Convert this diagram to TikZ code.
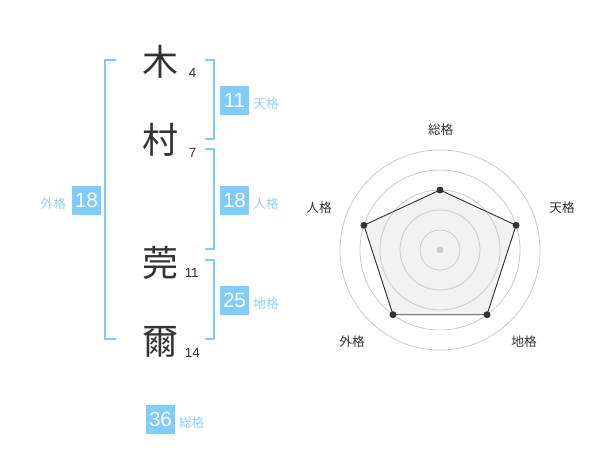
\documentclass[tikz,border=0pt]{standalone}
\usepackage{fontspec}
\setmainfont{Liberation Sans}
\newfontfamily\jp{Noto Sans CJK JP}
\usetikzlibrary{positioning, calc}
\definecolor{kakublue}{HTML}{80CCFF}
\definecolor{kakutext}{HTML}{8FD2F8}
\definecolor{gridgray}{HTML}{CCCCCC}
\definecolor{fillgray}{HTML}{F2F2F2}
\definecolor{inkgray}{HTML}{333333}
\tikzstyle{kanji}=[inner sep=0pt, text=inkgray, font=\jp\fontsize{27}{27}\selectfont]
\tikzstyle{strokes}=[inner sep=0pt, text=inkgray, font=\fontsize{10}{10}\selectfont]
\tikzstyle{score}=[fill=kakublue, text=white, minimum size=21.75pt, inner sep=0pt, font=\fontsize{15.5}{15.5}\selectfont]
\tikzstyle{kaku}=[inner sep=0pt, text=kakutext, font=\jp\fontsize{9.5}{9.5}\selectfont]
\tikzstyle{bracket}=[draw=kakublue, line width=1.5pt]
\tikzstyle{axislabel}=[inner sep=0pt, text=inkgray, font=\jp\fontsize{9.5}{9.5}\selectfont]
\tikzstyle{dot}=[fill=inkgray, shape=circle, minimum size=5.25pt, inner sep=0pt]

\begin{document}
\begin{tikzpicture}[x=0.75pt, y=-0.75pt]
	\useasboundingbox (0,0) rectangle (600,470);

	\node[kanji] (k1) at (160,61.7) {木};
	\node[kanji] (k2) at (160,140) {村};
	\node[kanji] (k3) at (160,263) {莞};
	\node[kanji] (k4) at (160,341.7) {爾};

	\node[strokes] (s1) at ($(k1)+(32.7,11.6)$) {4};
	\node[strokes] (s2) at ($(k2)+(32.7,12.7)$) {7};
	\node[strokes] (s3) at ($(k3)+(31.7,9.7)$) {11};
	\node[strokes] (s4) at ($(k4)+(32.3,11)$) {14};

	\draw[bracket] (115.7,60) -| (105.3,339.3) -- (115.7,339.3);
	\draw[bracket] (205.3,60) -| (214.3,139.3) -- (205.3,139.3);
	\draw[bracket] (205.3,149.3) -| (214.3,249.3) -- (205.3,249.3);
	\draw[bracket] (205.3,260) -| (214.3,339.3) -- (205.3,339.3);

	\node[score] (ten) at (234.5,100.5) {11};
	\node[score] (jin) at (234.5,200.5) {18};
	\node[score] (chi) at (234.5,300.5) {25};
	\node[score] (gai) at (86.5,200.5) {18};
	\node[score] (sou) at (160.5,419.5) {36};

	\node[kaku] at ($(ten)+(31.5,3.5)$) {天格};
	\node[kaku] at ($(jin)+(31.5,3.5)$) {人格};
	\node[kaku] at ($(chi)+(31.5,3.5)$) {地格};
	\node[kaku] at ($(gai)+(-33.2,2.8)$) {外格};
	\node[kaku] at ($(sou)+(31.2,3.2)$) {総格};

	% radar
	\begin{scope}[shift={(440,250)}, yscale=-1]
		\coordinate (c) at (0,0);
		\foreach \a/\r [count=\i] in {90/60, 18/80, -54/80, -126/80, 162/80}
			\coordinate (p\i) at (\a:\r);
	\end{scope}

	\fill[fillgray] (p1) -- (p2) -- (p3) -- (p4) -- (p5) -- cycle;
	\foreach \r in {20,40,60,80,100}
		\draw[gridgray, line width=0.6pt] (c) circle[radius=\r];
	\draw[inkgray, line width=0.7pt] (p1) -- (p2) -- (p3) -- (p4) -- (p5) -- cycle;
	\foreach \i in {1,...,5}
		\node[dot] at (p\i) {};
	\node[dot, fill=gridgray] at (c) {};

	\node[axislabel] at ($(c)+(0.7,-120)$) {総格};
	\node[axislabel] at ($(c)+(122,-42)$) {天格};
	\node[axislabel] at ($(c)+(84,92)$) {地格};
	\node[axislabel] at ($(c)+(-88,92)$) {外格};
	\node[axislabel] at ($(c)+(-121,-42)$) {人格};
\end{tikzpicture}
\end{document}
